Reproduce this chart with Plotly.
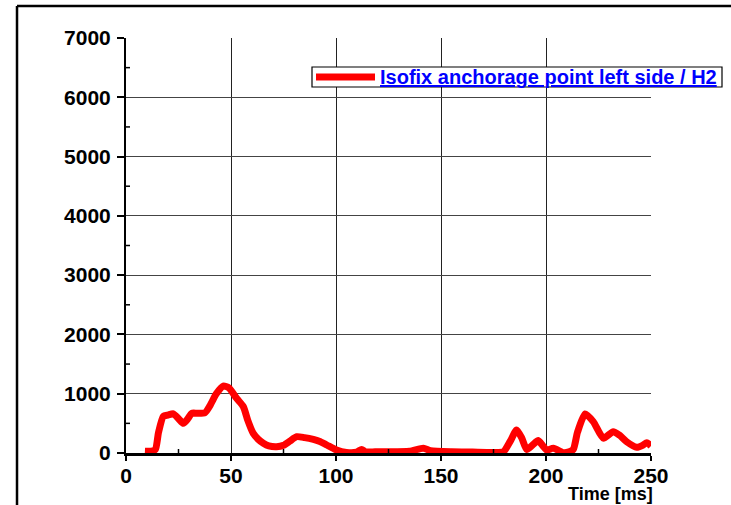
import plotly.graph_objects as go

time_ms = [9, 12, 14, 15.5, 17.8, 20, 22.5, 25, 27.3, 29.5, 31.3, 34, 37.6, 40, 43,
           46.3, 49, 52.7, 55.9, 58, 60.6, 63, 65.4, 68, 71.7, 75, 78, 81.3, 85, 89.2,
           92, 95.6, 100.3, 105, 109.8, 112.2, 114, 118.6, 125, 135, 141.6, 145, 155, 165, 175,
           179.7, 183, 186, 188.5, 190.8, 193.5, 196.3, 198.5, 200.3, 203.5, 208.3, 211, 213, 215,
           218.6, 222.5, 227.3, 232, 235, 238.4, 243.2, 246, 248, 250]
force = [30, 30, 60, 350, 620, 640, 660, 580, 500, 580, 670, 670, 680, 800, 1000,
         1130, 1100, 920, 780, 550, 330, 230, 165, 120, 105, 130, 200, 275, 260, 230,
         200, 135, 50, 10, 15, 60, 20, 20, 20, 30, 80, 40, 20, 15, 10,
         20, 200, 390, 250, 60, 130, 210, 120, 50, 80, 5, 20, 60, 350,
         660, 530, 250, 360, 300, 190, 96, 130, 175, 120]

series_name = "Isofix anchorage point left side / H2"
x_ticks = [0, 50, 100, 150, 200, 250]
y_ticks = [0, 1000, 2000, 3000, 4000, 5000, 6000, 7000]
x_minor = [25, 75, 125, 175, 225]
y_minor = [500, 1500, 2500, 3500, 4500, 5500, 6500]
x_title = "Time [ms]"

FONT = "Liberation Sans, Arial, sans-serif"

fig = go.Figure()
fig.add_trace(go.Scatter(x=time_ms, y=force, mode="lines", name=series_name,
                         line=dict(color="#ff0000", width=7, shape="spline", smoothing=0.6),
                         showlegend=False))

shapes = []
# minor ticks crossing the axes
for xm in x_minor:
    shapes.append(dict(type="line", xref="x", yref="y", x0=xm, x1=xm,
                       ysizemode="pixel", yanchor=0, y0=-4, y1=4,
                       line=dict(color="black", width=1.5)))
for ym in y_minor:
    shapes.append(dict(type="line", xref="x", yref="y", y0=ym, y1=ym,
                       xsizemode="pixel", xanchor=0, x0=-4, x1=4,
                       line=dict(color="black", width=1.5)))
# outer frame (top and left)
shapes.append(dict(type="line", xref="paper", yref="paper", x0=-0.2076, x1=1.2, y0=1.0771, y1=1.0771,
                   line=dict(color="black", width=2.5)))
shapes.append(dict(type="line", xref="paper", yref="paper", x0=-0.2076, x1=-0.2076, y0=-0.2, y1=1.0771,
                   line=dict(color="black", width=2.5)))
# legend box
lx0, lx1 = (312 - 126) / 525, (722 - 126) / 525
ly0, ly1 = (453 - 87) / 415, (453 - 67) / 415
shapes.append(dict(type="rect", xref="paper", yref="paper", x0=lx0, x1=lx1, y0=ly0, y1=ly1,
                   fillcolor="white", line=dict(color="black", width=1.2), layer="above"))
shapes.append(dict(type="line", xref="paper", yref="paper",
                   x0=(316 - 126) / 525, x1=(375 - 126) / 525,
                   y0=(453 - 77) / 415, y1=(453 - 77) / 415,
                   line=dict(color="#ff0000", width=7), layer="above"))

annotations = [
    dict(text="<b><u>" + series_name + "</u></b>", xref="paper", yref="paper",
         x=(378 - 126) / 525, y=(453 - 77) / 415, xanchor="left", yanchor="middle",
         showarrow=False, font=dict(family=FONT, size=20, color="#0000ff")),
    dict(text="<b>" + x_title + "</b>", xref="paper", yref="paper",
         x=(655 - 126) / 525, y=(453 - 494) / 415, xanchor="right", yanchor="middle",
         showarrow=False, font=dict(family=FONT, size=18, color="black")),
]

fig.update_layout(
    width=731, height=505,
    margin=dict(l=126, r=80, t=38, b=52),
    paper_bgcolor="white", plot_bgcolor="white",
    shapes=shapes, annotations=annotations,
    xaxis=dict(range=[0, 250], tickvals=x_ticks, ticks="outside", ticklen=5, tickwidth=1.5,
               tickcolor="black", showline=True, linecolor="black", linewidth=3,
               showgrid=True, gridcolor="#222", gridwidth=1, zeroline=False,
               tickfont=dict(family=FONT, size=21, color="black", weight="bold"),
               ticklabelstandoff=-3),
    yaxis=dict(range=[0, 7000], tickvals=y_ticks, ticks="outside", ticklen=7, tickwidth=1.5,
               tickcolor="black", showline=True, linecolor="black", linewidth=2,
               showgrid=True, gridcolor="#444", gridwidth=1, zeroline=False,
               tickfont=dict(family=FONT, size=21, color="black", weight="bold"),
               ticklabelstandoff=2),
)

fig.write_html("out.html")
